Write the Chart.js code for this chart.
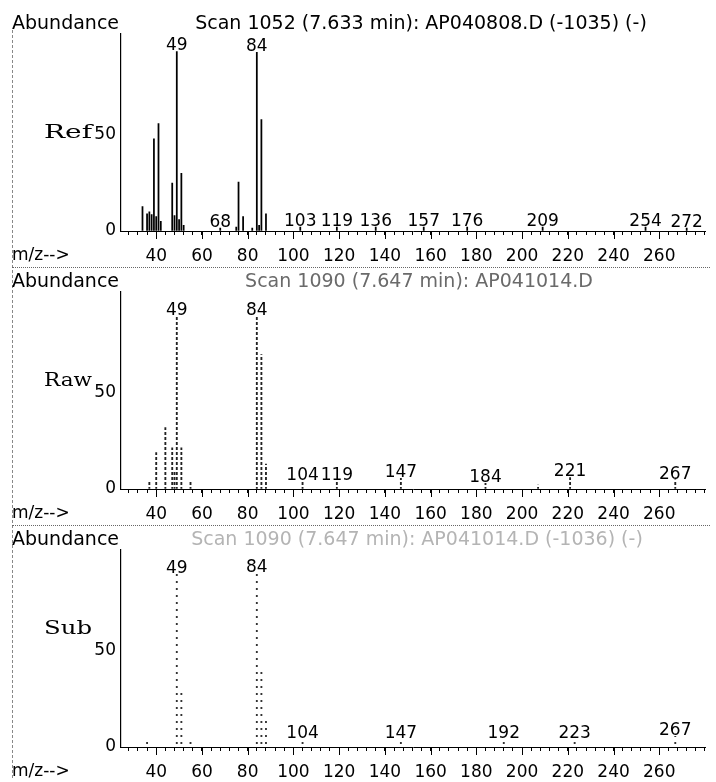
<!DOCTYPE html>
<html>
<head>
<meta charset="utf-8">
<script src="https://cdn.jsdelivr.net/npm/chart.js@4.4.1/dist/chart.umd.min.js"></script>
<style>
  html, body { margin: 0; padding: 0; background: #fff; }
  #page { position: relative; width: 716px; height: 782px; overflow: hidden; background: #fff; }
  .panel { position: absolute; left: 0; width: 716px; height: 258px; }
  .panel canvas { display: block; }
  .sep { position: absolute; left: 12px; width: 698px; height: 0; border-top: 1px dotted #666; }
  .frame { position: absolute; left: 12px; top: 30px; height: 748px; width: 0; border-left: 1px dashed #888; }
</style>
</head>
<body>
<div id="page">
  <div class="frame"></div>
  <div class="panel" style="top:9px"><canvas id="c0" width="716" height="258"></canvas></div>
  <div class="sep" style="top:267px"></div>
  <div class="panel" style="top:267px"><canvas id="c1" width="716" height="258"></canvas></div>
  <div class="sep" style="top:525px"></div>
  <div class="panel" style="top:525px"><canvas id="c2" width="716" height="258"></canvas></div>
</div>
<script>
// ---- m/z axis ----
const MZ_MIN = 24.6, MZ_MAX = 280.3;
const MZ_STEP = 4;                       // minor tick spacing
const mzLabels = [40, 60, 80, 100, 120, 140, 160, 180, 200, 220, 240, 260];
const abundanceTicks = [0, 50];

// ---- Ref spectrum ----
const refMz    = [34, 36, 37, 38, 39, 40, 41, 42, 47, 48, 49, 50, 51, 52, 68, 75, 76, 78, 82, 84, 85, 86, 88, 103, 119, 136, 157, 176, 209, 254, 272];
const refAbund = [12.7, 9, 10, 8.5, 48, 7.5, 56, 5, 25, 8, 93.5, 6, 30, 3, 1.5, 2, 25.5, 7.5, 1.5, 93, 3, 58, 9, 2, 2, 2, 2, 2, 2, 2, 1.5];
const refPeakLabels = [49, 84, 68, 103, 119, 136, 157, 176, 209, 254, 272];

// ---- Raw spectrum ----
const rawMz    = [37, 40, 44, 47, 48, 49, 51, 55, 84, 86, 88, 104, 119, 147, 184, 207, 221, 267];
const rawAbund = [4, 19, 32, 21.5, 9, 90, 21.5, 3.5, 90, 70, 13, 4, 4, 5.5, 3, 2, 6, 4.8];
const rawPeakLabels = [49, 84, 104, 119, 147, 184, 221, 267];

// ---- Subtracted spectrum ----
const subMz    = [36, 49, 51, 55, 84, 86, 88, 104, 147, 192, 223, 267];
const subAbund = [4, 90, 28.5, 3, 90.5, 40, 13.5, 4, 4, 4, 4, 5.5];
const subPeakLabels = [49, 84, 104, 147, 192, 223, 267];

const FONT = 'DejaVu Sans';
const SMALL = 17;
const HEAD = 19;

Chart.defaults.font.family = FONT;
Chart.defaults.color = '#000';

function stripePattern(ctx, on, off, color) {
  const c = document.createElement('canvas');
  c.width = 2; c.height = on + off;
  const g = c.getContext('2d');
  g.fillStyle = color;
  g.fillRect(0, 0, 2, on);
  return ctx.createPattern(c, 'repeat');
}

// labels above selected peaks, placed from the same m/z / abundance values
const peakLabelPlugin = {
  id: 'peakLabels',
  afterDatasetsDraw(chart, args, o) {
    const { ctx, scales: { x, y } } = chart;
    ctx.save();
    ctx.font = SMALL + 'px ' + FONT;
    ctx.fillStyle = '#000';
    ctx.textAlign = 'center';
    ctx.textBaseline = 'alphabetic';
    o.labels.forEach(m => {
      const i = o.mz.indexOf(m);
      if (i < 0) return;
      ctx.fillText(String(m), x.getPixelForValue(m), y.getPixelForValue(o.ab[i]) - 1);
    });
    ctx.restore();
  }
};

// longer ticks at the labelled m/z values
const majorTickPlugin = {
  id: 'majorTicks',
  afterDraw(chart) {
    const { ctx, scales: { x } } = chart;
    const y0 = chart.chartArea.bottom;
    ctx.save();
    ctx.strokeStyle = '#000';
    ctx.lineWidth = 1;
    mzLabels.forEach(v => {
      const px = Math.round(x.getPixelForValue(v)) + 0.5;
      ctx.beginPath(); ctx.moveTo(px, y0); ctx.lineTo(px, y0 + 8); ctx.stroke();
    });
    ctx.restore();
  }
};

// panel texts: Abundance, scan title, m/z--> and side name
const panelTextPlugin = {
  id: 'panelText',
  afterDraw(chart, args, o) {
    const { ctx } = chart;
    ctx.save();
    ctx.textBaseline = 'middle';
    ctx.font = HEAD + 'px ' + FONT;
    ctx.fillStyle = '#000';
    ctx.textAlign = 'left';
    ctx.fillText('Abundance', 12, 15);
    ctx.fillStyle = o.titleColor;
    ctx.textAlign = 'center';
    ctx.fillText(o.title, o.titleX, 15);
    ctx.fillStyle = '#000';
    ctx.textAlign = 'left';
    ctx.font = SMALL + 'px ' + FONT;
    ctx.fillText('m/z-->', 12, 247);
    // side name in a wide serif face
    ctx.font = '19px "DejaVu Serif"';
    ctx.textBaseline = 'alphabetic';
    const w = ctx.measureText(o.name).width;
    const sx = 48 / w;
    ctx.translate(44, o.nameY);
    ctx.scale(sx, 1);
    ctx.fillText(o.name, 0, 0);
    ctx.restore();
  }
};

function makePanel(id, mz, ab, labels, fill, barW, axisDash, text) {
  const canvas = document.getElementById(id);
  const ctx = canvas.getContext('2d');
  return new Chart(canvas, {
    type: 'bar',
    data: {
      datasets: [{
        data: mz.map((m, i) => ({ x: m, y: ab[i] })),
        backgroundColor: fill(ctx),
        borderWidth: 0,
        barThickness: barW
      }]
    },
    options: {
      responsive: false,
      animation: false,
      devicePixelRatio: 1,
      events: [],
      layout: { padding: { top: 25, right: 2, left: 0, bottom: 0 } },
      plugins: {
        legend: { display: false },
        tooltip: { enabled: false },
        title: { display: false },
        peakLabels: { mz: mz, ab: ab, labels: labels },
        panelText: text
      },
      scales: {
        x: {
          type: 'linear',
          min: MZ_MIN, max: MZ_MAX,
          offset: false,
          border: { display: true, color: '#000', width: 1, dash: axisDash },
          grid: { display: true, drawOnChartArea: false, drawTicks: true, tickLength: 4, color: '#000', offset: false },
          ticks: {
            autoSkip: false, maxRotation: 0, padding: 11,
            font: { size: SMALL }, color: '#000',
            callback: v => mzLabels.includes(v) ? String(v) : ''
          },
          afterBuildTicks: s => {
            const t = [];
            for (let v = Math.ceil(MZ_MIN / MZ_STEP) * MZ_STEP; v <= MZ_MAX; v += MZ_STEP) t.push({ value: v });
            s.ticks = t;
          },
          afterFit: s => { s.height = 36; }
        },
        y: {
          min: 0, max: 102.6,
          border: { display: true, color: '#000', width: 1.2 },
          grid: { display: true, drawOnChartArea: false, drawTicks: false },
          ticks: { padding: 5, font: { size: SMALL }, color: '#000' },
          afterBuildTicks: s => { s.ticks = abundanceTicks.map(v => ({ value: v })); },
          afterFit: s => { s.width = 121; }
        }
      }
    },
    plugins: [peakLabelPlugin, majorTickPlugin, panelTextPlugin]
  });
}

makePanel('c0', refMz, refAbund, refPeakLabels, () => '#000', 1.1, [], {
  title: 'Scan 1052 (7.633 min): AP040808.D (-1035) (-)', titleX: 421, titleColor: '#000',
  name: 'Ref', nameY: 129
});
makePanel('c1', rawMz, rawAbund, rawPeakLabels, c => stripePattern(c, 3, 2, '#222'), 1.2, [4, 2], {
  title: 'Scan 1090 (7.647 min): AP041014.D', titleX: 419, titleColor: '#6a6a6a',
  name: 'Raw', nameY: 119
});
makePanel('c2', subMz, subAbund, subPeakLabels, c => stripePattern(c, 2, 5, '#333'), 1.2, [4, 2], {
  title: 'Scan 1090 (7.647 min): AP041014.D (-1036) (-)', titleX: 417, titleColor: '#b4b4b4',
  name: 'Sub', nameY: 109
});
</script>
</body>
</html>
